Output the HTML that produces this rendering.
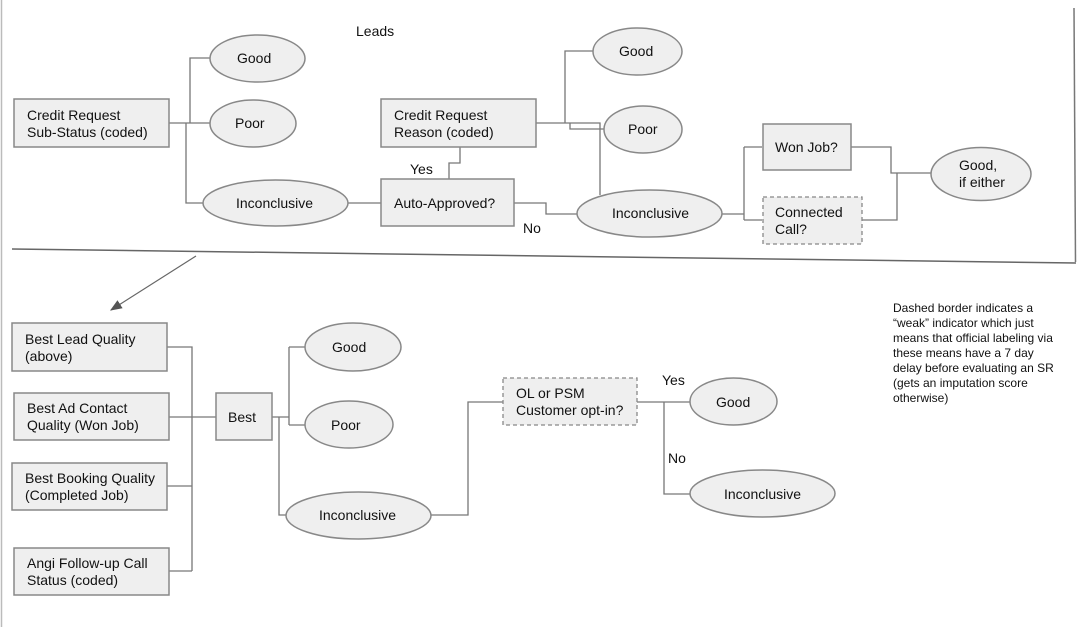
<!DOCTYPE html>
<html><head><meta charset="utf-8"><style>
html,body{margin:0;padding:0;background:#fff;}
svg{display:block;}
text{font-family:"Liberation Sans",Arial,sans-serif;font-size:14px;fill:#111;}
.b{fill:#efefef;stroke:#888;stroke-width:1.5;}
.d{fill:#efefef;stroke:#888;stroke-width:1.3;stroke-dasharray:4,3;}
.l{fill:none;stroke:#777;stroke-width:1.3;}
</style></head><body>
<svg width="1079" height="627" viewBox="0 0 1079 627" xmlns="http://www.w3.org/2000/svg">
<defs><marker id="ah" markerWidth="10" markerHeight="8" refX="9" refY="4" orient="auto"><path d="M0,0 L10,4 L0,8 z" fill="#555"/></marker></defs>
<line x1="1.5" y1="0" x2="1.5" y2="627" stroke="#bbb" stroke-width="1.5"/>
<line x1="1074" y1="8" x2="1075.5" y2="262" stroke="#777" stroke-width="1.5"/>
<line x1="12" y1="249" x2="1076" y2="263" stroke="#666" stroke-width="1.5"/>
<line x1="196" y1="256" x2="111" y2="310" stroke="#666" stroke-width="1.2" marker-end="url(#ah)"/>
<text x="356" y="36">Leads</text>

<!-- top connectors -->
<path class="l" d="M169,123 H210 M190,123 V58 H210 M186,123 V203 H203"/>
<path class="l" d="M348,203 H381"/>
<path class="l" d="M460,147 V163 H449 V179"/>
<path class="l" d="M514,203 H546 V214 H577"/>
<path class="l" d="M536,123 H600 V195 M565,123 V51 H593 M570,123 V129 H604"/>
<path class="l" d="M722,214 H744 M744,147 V220 M744,147 H762 M744,220 H762"/>
<path class="l" d="M851,147 H891 V173 H931 M862,220 H897 V173"/>

<rect class="b" x="14" y="99" width="155" height="48"/>
<text x="27" y="120">Credit Request</text><text x="27" y="137">Sub-Status (coded)</text>
<ellipse class="b" cx="257.5" cy="58.5" rx="47.5" ry="23.5"/><text x="237" y="63">Good</text>
<ellipse class="b" cx="253" cy="123.5" rx="43" ry="23.5"/><text x="235" y="128">Poor</text>
<ellipse class="b" cx="275.5" cy="203" rx="72.5" ry="23"/><text x="236" y="208">Inconclusive</text>
<rect class="b" x="381" y="99" width="155" height="48"/>
<text x="394" y="120">Credit Request</text><text x="394" y="137">Reason (coded)</text>
<rect class="b" x="381" y="179" width="133" height="47"/>
<text x="394" y="208">Auto-Approved?</text>
<text x="410" y="174">Yes</text>
<text x="523" y="233">No</text>
<ellipse class="b" cx="637.5" cy="51.5" rx="44.5" ry="23.5"/><text x="619" y="56">Good</text>
<ellipse class="b" cx="643" cy="129.5" rx="39" ry="23.5"/><text x="628" y="134">Poor</text>
<ellipse class="b" cx="649.5" cy="213.5" rx="72.5" ry="23.5"/><text x="612" y="218">Inconclusive</text>
<rect class="b" x="763" y="124" width="88" height="46"/>
<text x="775" y="152">Won Job?</text>
<rect class="d" x="763" y="197" width="99" height="47"/>
<text x="775" y="217">Connected</text><text x="775" y="234">Call?</text>
<ellipse class="b" cx="981" cy="174" rx="50" ry="26.5"/>
<text x="959" y="170">Good,</text><text x="959" y="187">if either</text>

<!-- bottom connectors -->
<path class="l" d="M167,347 H192 V571 M169,417 H216 M167,486 H192 M169,571 H192"/>
<path class="l" d="M272,417 H289 M289,347 V425 M289,347 H305 M289,425 H305 M279,417 V515 H286"/>
<path class="l" d="M431,515 H468 V402 H503"/>
<path class="l" d="M637,402 H690 M664,402 V494 H690"/>

<rect class="b" x="12" y="323" width="155" height="48"/>
<text x="25" y="344">Best Lead Quality</text><text x="25" y="361">(above)</text>
<rect class="b" x="14" y="393" width="155" height="47"/>
<text x="27" y="413">Best Ad Contact</text><text x="27" y="430">Quality (Won Job)</text>
<rect class="b" x="12" y="463" width="155" height="47"/>
<text x="25" y="483">Best Booking Quality</text><text x="25" y="500">(Completed Job)</text>
<rect class="b" x="14" y="548" width="155" height="47"/>
<text x="27" y="568">Angi Follow-up Call</text><text x="27" y="585">Status (coded)</text>
<rect class="b" x="216" y="393" width="56" height="47"/>
<text x="228" y="422">Best</text>
<ellipse class="b" cx="353" cy="347" rx="48" ry="24"/><text x="332" y="352">Good</text>
<ellipse class="b" cx="349" cy="424.5" rx="44" ry="23.5"/><text x="331" y="430">Poor</text>
<ellipse class="b" cx="358.5" cy="515.5" rx="72.5" ry="23.5"/><text x="319" y="520">Inconclusive</text>
<rect class="d" x="503" y="378" width="134" height="47"/>
<text x="516" y="398">OL or PSM</text><text x="516" y="415">Customer opt-in?</text>
<text x="662" y="385">Yes</text>
<text x="668" y="463">No</text>
<ellipse class="b" cx="733.5" cy="401.5" rx="43.5" ry="23.5"/><text x="716" y="407">Good</text>
<ellipse class="b" cx="762.5" cy="493.5" rx="72.5" ry="23.5"/><text x="724" y="499">Inconclusive</text>

<g style="font-size:12px">
<text x="893" y="312" style="font-size:12px">Dashed border indicates a</text>
<text x="893" y="327" style="font-size:12px">“weak” indicator which just</text>
<text x="893" y="342" style="font-size:12px">means that official labeling via</text>
<text x="893" y="357" style="font-size:12px">these means have a 7 day</text>
<text x="893" y="372" style="font-size:12px">delay before evaluating an SR</text>
<text x="893" y="387" style="font-size:12px">(gets an imputation score</text>
<text x="893" y="402" style="font-size:12px">otherwise)</text>
</g>
</svg>
</body></html>
